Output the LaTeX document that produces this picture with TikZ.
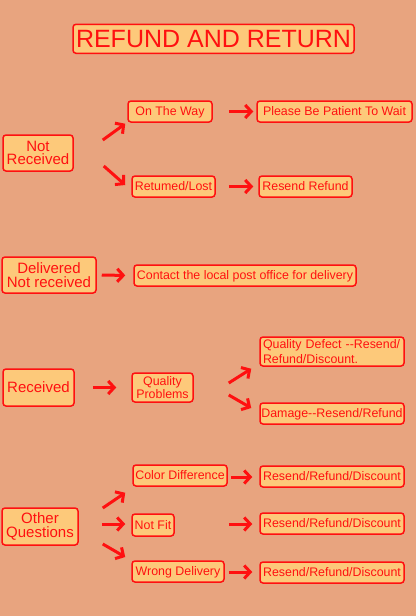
\documentclass[tikz,border=0pt]{standalone}
\usepackage{fontspec}
\setmainfont{Liberation Sans}[Ligatures=NoCommon]
\usetikzlibrary{arrows.meta}
\definecolor{bgc}{HTML}{E8A47F}
\definecolor{boxc}{HTML}{FDC97A}
\definecolor{redc}{HTML}{FF1010}
\begin{document}
\begin{tikzpicture}[x=1pt,y=-1pt,
  box/.style={draw=redc, line width=1.5pt, fill=boxc, rounded corners=3pt, text=redc, inner sep=0pt, align=center},
  sm/.style={box, font=\fontsize{12.4}{14}\selectfont, text depth=0pt},
  smtwo/.style={box, font=\fontsize{12.4}{11.5}\selectfont},
  bg/.style={box, font=\fontsize{15}{13.5}\selectfont},
  arr/.style={draw=redc, line width=3pt, -{Straight Barb[length=6pt,width=13pt]}}]
\fill[bgc] (0,0) rectangle (416,616);
\useasboundingbox (0,0) rectangle (416,616);
% title
\node[box, font=\fontsize{25}{28}\selectfont, minimum width=281, minimum height=29] (title) at (213.5,38.8) {REFUND AND RETURN};
% group 1
\node[bg, minimum width=70, minimum height=36] (nr) at (38,153) {Not\\Received};
\node[sm, minimum width=84, minimum height=21] (otw) at (170,111.5) {On The Way};
\node[sm, minimum width=155, minimum height=21] (wait) at (334.5,111.5) {Please Be Patient To Wait};
\node[sm, minimum width=83, minimum height=21] (rl) at (173.5,186.5) {Retumed/Lost};
\node[sm, minimum width=93, minimum height=21] (rr) at (305.5,186.5) {Resend Refund};
\draw[arr] ([shift={(29,-13)}]nr.east) -- ([shift={(-2,1)}]otw.south west);
\draw[arr] ([shift={(30,13)}]nr.east) -- ([shift={(-6,-1.5)}]rl.west);
\draw[arr, shorten <=16pt, shorten >=3pt] (otw.east) -- (wait.west);
\draw[arr, shorten <=13pt, shorten >=5pt] (rl.east) -- (rr.west);
% group 2
\node[bg, font=\fontsize{15}{14}\selectfont, minimum width=94, minimum height=36] (dnr) at (49,275) {Delivered\\Not received};
\node[sm, minimum width=222, minimum height=21] (contact) at (245,275.5) {Contact the local post office for delivery};
\draw[arr, shorten <=5pt, shorten >=8pt] (dnr.east) -- (contact.west);
% group 3
\node[bg, minimum width=71, minimum height=37] (rec) at (38.5,387.5) {Received};
\node[smtwo, minimum width=61, minimum height=29] (qp) at (162.5,387.5) {Quality\\Problems};
\node[smtwo, font=\fontsize{12.4}{14.3}\selectfont, align=left, text width=138, minimum width=144, minimum height=29] (qd) at (332,351.5) {\mbox{Quality Defect -{}-Resend/}\\Refund/Discount.};
\node[sm, minimum width=144, minimum height=21] (dmg) at (332,413.5) {Damage-{}-Resend/Refund};
\draw[arr, shorten <=18pt, shorten >=15pt] (rec.east) -- (qp.west);
\draw[arr] ([shift={(35,-4.5)}]qp.east) -- ([shift={(-8,2)}]qd.south west);
\draw[arr] ([shift={(35,7.5)}]qp.east) -- ([shift={(-8,-5.5)}]dmg.west);
% group 4
\node[bg, minimum width=76, minimum height=37] (oq) at (40,526.5) {Other\\Questions};
\node[sm, minimum width=94, minimum height=21] (cd) at (180,475.5) {Color Difference};
\node[sm, minimum width=144, minimum height=21] (r1) at (332,476.5) {Resend/Refund/Discount};
\node[sm, minimum width=42, minimum height=22] (nf) at (153,525) {Not Fit};
\node[sm, minimum width=144, minimum height=21] (r2) at (332,523.5) {Resend/Refund/Discount};
\node[sm, minimum width=92, minimum height=21] (wd) at (178,571.5) {Wrong Delivery};
\node[sm, minimum width=144, minimum height=21] (r3) at (332,572.5) {Resend/Refund/Discount};
\draw[arr] ([shift={(24,-18.5)}]oq.east) -- ([shift={(-7,6)}]cd.south west);
\draw[arr] ([shift={(23,-2.5)}]oq.east) -- ([shift={(-6,-1)}]nf.west);
\draw[arr] ([shift={(24,17.5)}]oq.east) -- ([shift={(-6,-14.5)}]wd.west);
\draw[arr] ([shift={(3,1.5)}]cd.east) -- ([shift={(-7,0.5)}]r1.west);
\draw[arr] ([shift={(54,-1)}]nf.east) -- ([shift={(-7,0.5)}]r2.west);
\draw[arr] ([shift={(4,0.5)}]wd.east) -- ([shift={(-7,-0.5)}]r3.west);
\end{tikzpicture}
\end{document}
